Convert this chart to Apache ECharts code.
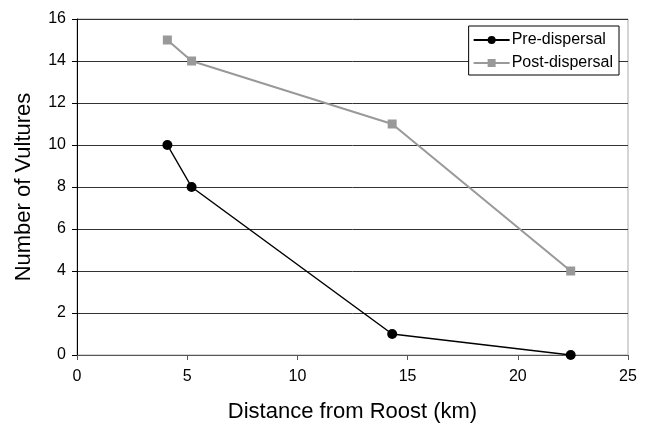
<!DOCTYPE html>
<html>
<head>
<meta charset="utf-8">
<script src="https://cdn.jsdelivr.net/npm/echarts@6/dist/echarts.min.js"></script>
<style>html,body{margin:0;padding:0;background:#fff}#c{width:646px;height:428px}</style>
</head>
<body>
<div id="c"></div>
<script>
const distances = [4.1, 5.2, 14.3, 22.4];
const preDispersal = [10, 8, 1, 0];
const postDispersal = [15, 14, 11, 4];
const seriesNames = ['Pre-dispersal', 'Post-dispersal'];
const xTitle = 'Distance from Roost (km)';
const yTitle = 'Number of Vultures';

const chart = echarts.init(document.getElementById('c'));
const font = 'Liberation Sans, Arial, sans-serif';
chart.setOption({
  animation: false,
  backgroundColor: '#fff',
  grid: { left: 77, right: 18, top: 19, bottom: 71, show: true, borderColor: '#aaa', borderWidth: 1 },
  legend: {
    orient: 'vertical', right: 27, top: 26,
    backgroundColor: '#fff', borderColor: '#000', borderWidth: 1,
    padding: [6, 6, 4, 4], itemWidth: 36, itemHeight: 10, itemGap: 7,
    textStyle: { fontFamily: font, fontSize: 16, color: '#000', padding: [0, 0, 0, -3] },
    data: seriesNames
  },
  xAxis: {
    type: 'value', min: 0, max: 25, interval: 5,
    name: xTitle, nameLocation: 'middle', nameGap: 46,
    nameTextStyle: { fontFamily: font, fontSize: 22, color: '#000' },
    axisLine: { show: true, onZero: false, lineStyle: { color: '#555', width: 1 } },
    axisTick: { show: true, length: 5, lineStyle: { color: '#555' } },
    axisLabel: { fontFamily: font, fontSize: 16, color: '#000', margin: 14 },
    splitLine: { show: false }
  },
  yAxis: {
    type: 'value', min: 0, max: 16, interval: 2,
    name: yTitle, nameLocation: 'middle', nameGap: 42, nameRotate: 90,
    nameTextStyle: { fontFamily: font, fontSize: 22, color: '#000' },
    axisLine: { show: true, lineStyle: { color: '#000', width: 1 } },
    axisTick: { show: true, length: 5, lineStyle: { color: '#000' } },
    axisLabel: { fontFamily: font, fontSize: 16, color: '#000', margin: 11 },
    splitLine: { show: true, lineStyle: { color: '#333', width: 1 } }
  },
  series: [
    {
      name: seriesNames[0], type: 'line',
      data: distances.map((d, i) => [d, preDispersal[i]]),
      symbol: 'circle', symbolSize: 10,
      itemStyle: { color: '#000' },
      lineStyle: { color: '#000', width: 1.5 },
      z: 3
    },
    {
      name: seriesNames[1], type: 'line',
      data: distances.map((d, i) => [d, postDispersal[i]]),
      symbol: 'rect', symbolSize: 9,
      itemStyle: { color: '#999' },
      lineStyle: { color: '#999', width: 2 },
      z: 2
    }
  ]
});
</script>
</body>
</html>
